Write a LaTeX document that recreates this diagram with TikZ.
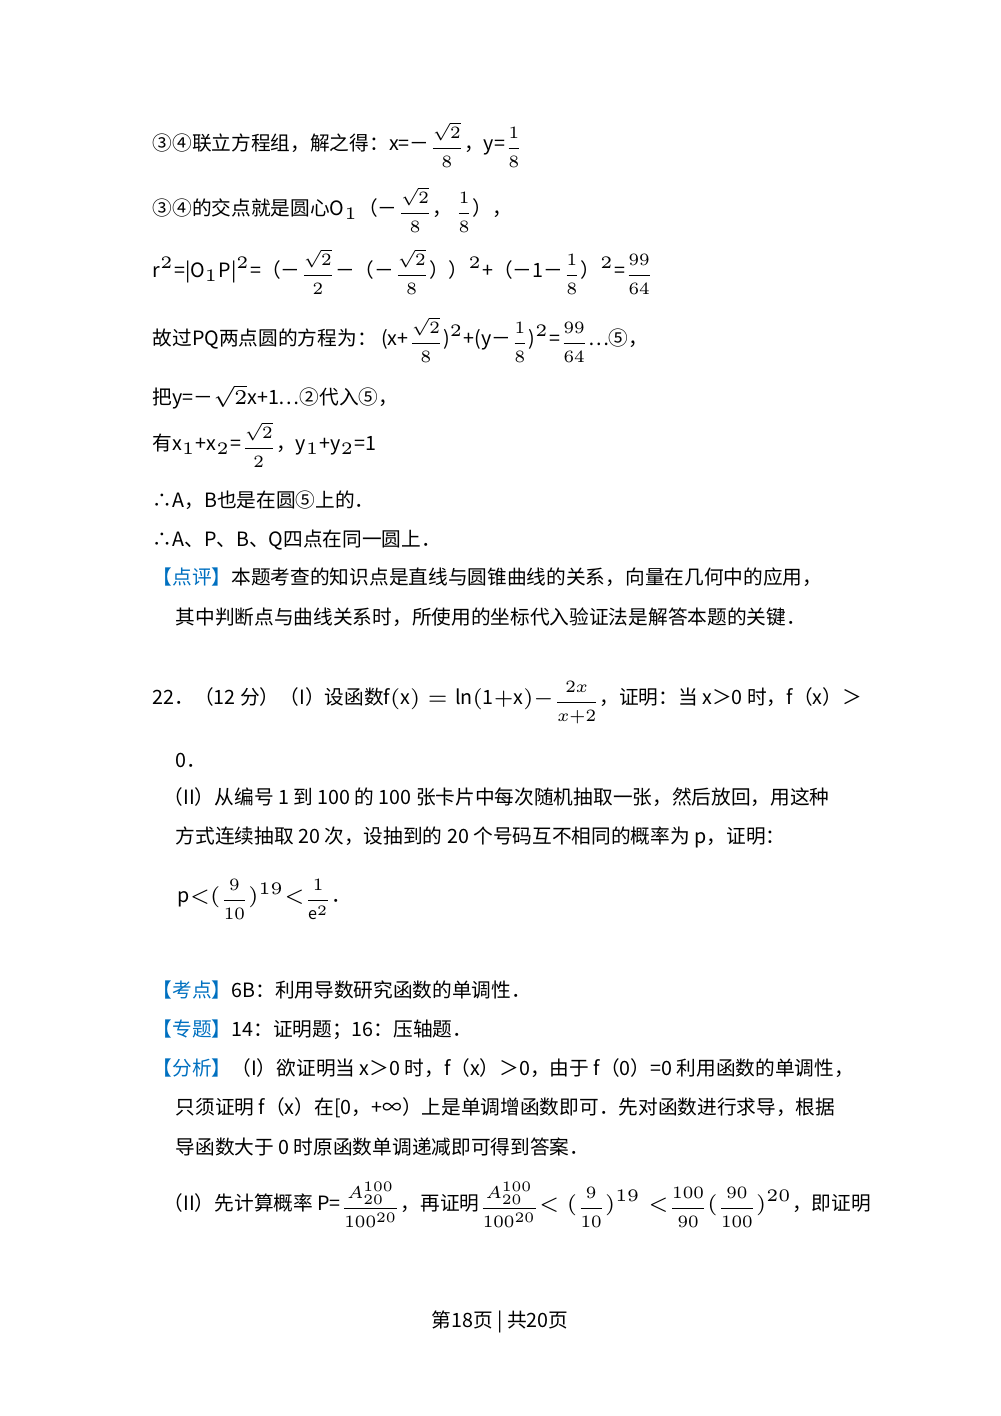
\documentclass[tikz,border=0pt]{standalone}
\usepackage{amsmath}
\usepackage{graphicx}
\usepackage{fontspec}
\setmainfont{Noto Sans CJK SC}
\definecolor{kblue}{RGB}{0,112,192}
\newcommand{\fr}[2]{\raisebox{-0.2ex}{\scalebox{0.82}{$\dfrac{#1}{#2}$}}}
\begin{document}
\begin{tikzpicture}[x=0.01cm,y=-0.01cm,
  line/.style={anchor=west,inner sep=0pt,font=\fontsize{5.6}{7}\selectfont},
  tag/.style={text=kblue}]
\useasboundingbox (0,0) rectangle (1000,1416);
\node[line] (l1) at (152,145) {③④联立方程组，解之得：x=－\fr{\sqrt2}{8}，y=\fr18};
\node[line] (l2) at (152,210) {③④的交点就是圆心O$_1$（－\fr{\sqrt2}{8}，\,\fr18），};
\node[line] (l3) at (152,272) {r$^2$=|O$_1$P|$^2$=（－\fr{\sqrt2}{2}－（－\fr{\sqrt2}{8}））$^2$+（－1－\fr18）$^2$=\fr{99}{64}};
\node[line] (l4) at (152,340) {故过PQ两点圆的方程为：\ (x+\fr{\sqrt2}{8})$^2$+(y－\fr18)$^2$=\fr{99}{64}…⑤，};
\node[line] (l5) at (152,397) {把y=－$\sqrt2$x+1…②代入⑤，};
\node[line] (l6) at (152,445) {有x$_1$+x$_2$=\fr{\sqrt2}{2}，y$_1$+y$_2$=1};
\node[line] (l7) at (152,500) {∴A，B也是在圆⑤上的．};
\node[line] (l8) at (152,540) {∴A、P、B、Q四点在同一圆上．};
\node[line] (l9) at (152,577) {\textcolor{kblue}{【点评】}本题考查的知识点是直线与圆锥曲线的关系，向量在几何中的应用，};
\node[line] (l10) at (175,617) {其中判断点与曲线关系时，所使用的坐标代入验证法是解答本题的关键．};
\node[line] (l11) at (152,703) {22．（12 分）（I）设函数$\mathrm{f(x)=ln(1{+}x)}{-}$\fr{2x}{x{+}2}，证明：当 x＞0 时，f（x）＞};
\node[line] (l12) at (175,760) {0．};
\node[line] (l13) at (163,797) {（II）从编号 1 到 100 的 100 张卡片中每次随机抽取一张，然后放回，用这种};
\node[line] (l14) at (175,837) {方式连续抽取 20 次，设抽到的 20 个号码互不相同的概率为 p，证明：};
\node[line] (l15) at (177,900) {$\mathrm{p}{<}($\fr{9}{10}$)^{19}{<}$\fr{1}{\mathrm{e}^2}．};
\node[line] (l16) at (152,990) {\textcolor{kblue}{【考点】}6B：利用导数研究函数的单调性．};
\node[line] (l17) at (152,1030) {\textcolor{kblue}{【专题】}14：证明题；16：压轴题．};
\node[line] (l18) at (152,1068) {\textcolor{kblue}{【分析】}（I）欲证明当 x＞0 时，f（x）＞0，由于 f（0）=0 利用函数的单调性，};
\node[line] (l19) at (175,1108) {只须证明 f（x）在[0，+∞）上是单调增函数即可．先对函数进行求导，根据};
\node[line] (l20) at (175,1147) {导函数大于 0 时原函数单调递减即可得到答案．};
\node[line] (l21) at (163,1205) {（II）先计算概率 P=\fr{A_{20}^{100}}{100^{20}}，再证明\fr{A_{20}^{100}}{100^{20}}$<($\fr{9}{10}$)^{19}<$\fr{100}{90}$($\fr{90}{100}$)^{20}$，即证明};
\node[line,anchor=center] (foot) at (500,1322) {第18页 | 共20页};
\end{tikzpicture}
\end{document}
